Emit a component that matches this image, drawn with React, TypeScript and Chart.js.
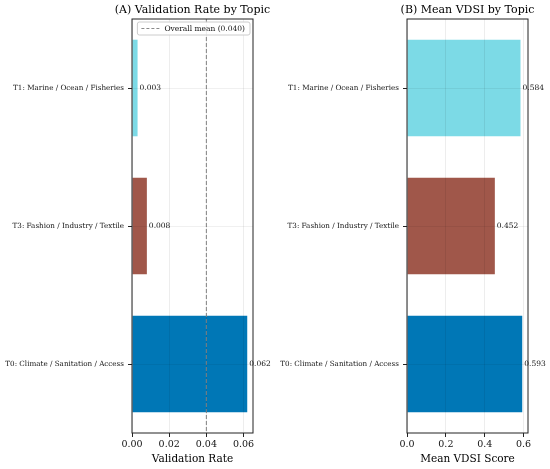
import { useEffect, useRef } from 'react';
import Chart from 'chart.js/auto';

const topics = [
  'T1: Marine / Ocean / Fisheries',
  'T3: Fashion / Industry / Textile',
  'T0: Climate / Sanitation / Access',
];
const validationRate = [0.003, 0.008, 0.062];
const meanVdsi = [0.584, 0.452, 0.593];
const overallMean = 0.04;
const rateTicks = [0, 0.02, 0.04, 0.06];
const vdsiTicks = [0, 0.2, 0.4, 0.6];

const barColors = ['#7CDAE6', '#A0574A', '#0077B6'];
const FONT = "'DejaVu Serif', serif";

type BarsProps = {
  title: string;
  values: number[];
  xLabel: string;
  tickValues: number[];
  tickDecimals: number;
  mean?: number;
};

const TopicBars = ({ title, values, xLabel, tickValues, tickDecimals, mean }: BarsProps) => {
  const chartRef = useRef<HTMLCanvasElement>(null);
  const chartInstance = useRef<Chart | null>(null);

  useEffect(() => {
    if (!chartRef.current) return;
    if (chartInstance.current) chartInstance.current.destroy();

    const xMax = Math.max(...values) * 1.05; // matplotlib-ish 5% margin

    const decor = {
      id: 'decor',
      afterDatasetsDraw(chart: any) {
        const { ctx, chartArea: a } = chart;
        const xs = chart.scales.x;
        const ys = chart.scales.y;
        ctx.save();
        if (mean !== undefined) {
          const mx = xs.getPixelForValue(mean);
          ctx.strokeStyle = '#8a8a8a';
          ctx.lineWidth = 1;
          ctx.setLineDash([4, 2]);
          ctx.beginPath();
          ctx.moveTo(mx, a.top);
          ctx.lineTo(mx, a.bottom);
          ctx.stroke();
          ctx.setLineDash([]);
        }
        ctx.font = `7.5px ${FONT}`;
        ctx.fillStyle = '#111';
        ctx.textAlign = 'left';
        ctx.textBaseline = 'middle';
        values.forEach((v, i) => {
          ctx.fillText(v.toFixed(3), xs.getPixelForValue(v) + 2, ys.getPixelForValue(i));
        });
        ctx.restore();
      },
      afterDraw(chart: any) {
        const { ctx, chartArea: a } = chart;
        ctx.save();
        // full box like matplotlib spines
        ctx.strokeStyle = '#222';
        ctx.lineWidth = 1;
        ctx.strokeRect(a.left, a.top, a.right - a.left, a.bottom - a.top);
        // title centred over the axes
        ctx.font = `11px ${FONT}`;
        ctx.fillStyle = '#000';
        ctx.textAlign = 'center';
        ctx.textBaseline = 'middle';
        ctx.fillText(title, (a.left + a.right) / 2, 10);
        // legend for the mean line
        if (mean !== undefined) {
          const label = `Overall mean (${mean.toFixed(3)})`;
          ctx.font = `7.5px ${FONT}`;
          const tw = ctx.measureText(label).width;
          const w = tw + 32;
          const h = 13;
          const bx = a.right - 3 - w;
          const by = a.top + 3;
          ctx.fillStyle = 'rgba(255,255,255,0.85)';
          ctx.strokeStyle = '#cccccc';
          ctx.beginPath();
          ctx.roundRect(bx, by, w, h, 2);
          ctx.fill();
          ctx.stroke();
          ctx.strokeStyle = '#8a8a8a';
          ctx.setLineDash([3, 2]);
          ctx.beginPath();
          ctx.moveTo(bx + 4, by + h / 2);
          ctx.lineTo(bx + 22, by + h / 2);
          ctx.stroke();
          ctx.setLineDash([]);
          ctx.fillStyle = '#111';
          ctx.textAlign = 'left';
          ctx.fillText(label, bx + 27, by + h / 2 + 0.5);
        }
        ctx.restore();
      },
    };

    chartInstance.current = new Chart(chartRef.current, {
      type: 'bar',
      data: {
        labels: topics,
        datasets: [
          {
            data: values,
            backgroundColor: barColors,
            borderWidth: 0,
            barPercentage: 0.7,
            categoryPercentage: 1,
          },
        ],
      },
      options: {
        indexAxis: 'y',
        responsive: true,
        maintainAspectRatio: false,
        animation: false,
        layout: { padding: { top: 19, right: 22, left: 0, bottom: 0 } },
        plugins: {
          legend: { display: false },
          title: { display: false },
          tooltip: { enabled: false },
        },
        scales: {
          x: {
            type: 'linear',
            min: 0,
            max: xMax,
            afterBuildTicks: (scale: any) => {
              scale.ticks = tickValues.map((v) => ({ value: v }));
            },
            afterFit: (scale: any) => {
              scale.height = 36;
            },
            ticks: {
              color: '#111',
              font: { family: FONT, size: 9.5 },
              padding: 2,
              maxRotation: 0,
              callback: (v: any) => Number(v).toFixed(tickDecimals),
            },
            grid: {
              color: 'rgba(0,0,0,0.07)',
              tickColor: '#222',
              tickLength: 4,
              z: 1,
            },
            border: { display: false },
            title: {
              display: true,
              text: xLabel,
              color: '#000',
              font: { family: FONT, size: 10.5 },
              padding: { top: 0, bottom: 3 },
            },
          },
          y: {
            afterFit: (scale: any) => {
              scale.width = 132;
            },
            ticks: {
              color: '#111',
              font: { family: FONT, size: 7.2 },
              padding: 4,
            },
            grid: {
              offset: false,
              color: 'rgba(0,0,0,0.06)',
              tickColor: '#222',
              tickLength: 4,
              z: 1,
            },
            border: { display: false },
          },
        },
      },
      plugins: [decor],
    });

    return () => {
      if (chartInstance.current) {
        chartInstance.current.destroy();
        chartInstance.current = null;
      }
    };
  }, [title, values, xLabel, tickValues, tickDecimals, mean]);

  return (
    <div style={{ position: 'relative', width: 275, height: 469 }}>
      <canvas ref={chartRef} />
    </div>
  );
};

const App = () => (
  <div style={{ position: 'fixed', left: 0, top: 0, width: 550, height: 469, display: 'flex', background: '#fff' }}>
    <TopicBars
      title="(A) Validation Rate by Topic"
      values={validationRate}
      xLabel="Validation Rate"
      tickValues={rateTicks}
      tickDecimals={2}
      mean={overallMean}
    />
    <TopicBars
      title="(B) Mean VDSI by Topic"
      values={meanVdsi}
      xLabel="Mean VDSI Score"
      tickValues={vdsiTicks}
      tickDecimals={1}
    />
  </div>
);

export default App;
